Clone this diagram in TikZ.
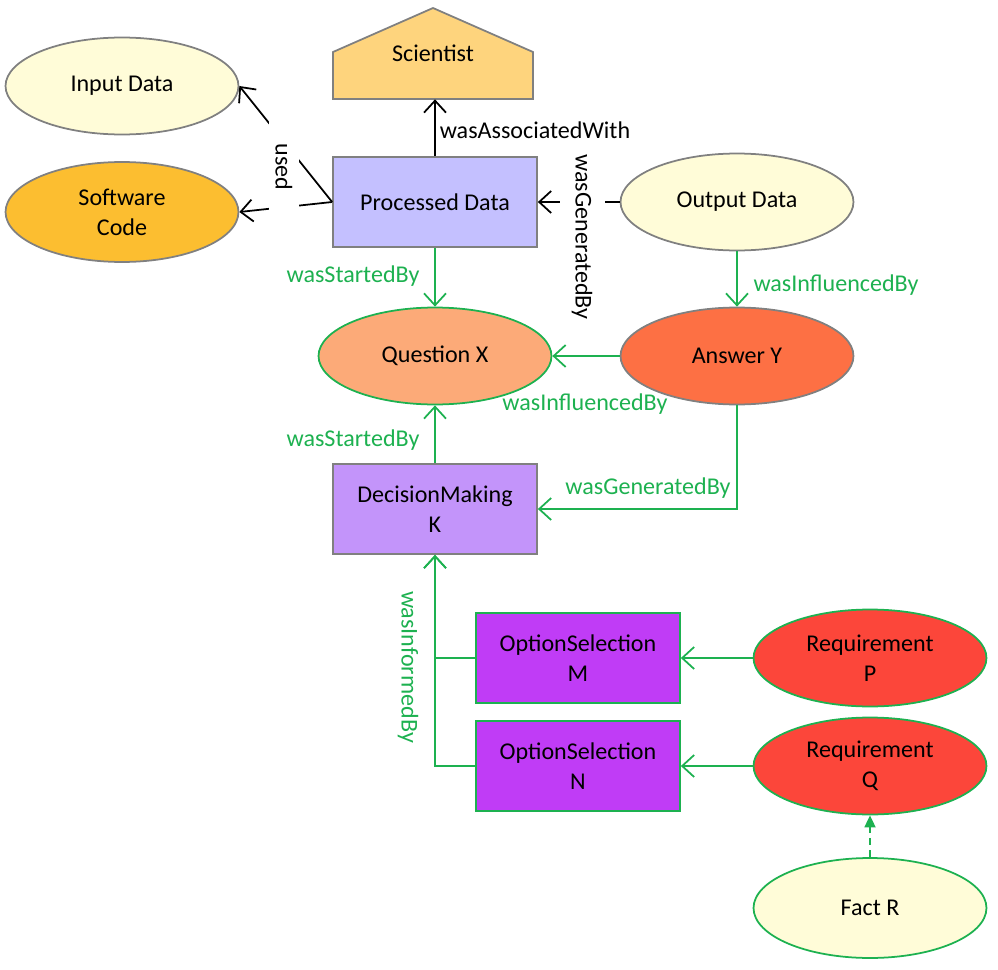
\documentclass[tikz,border=0pt]{standalone}
\usepackage{fontspec}
\setmainfont{Carlito}
\usepackage{tikz}
\usetikzlibrary{shapes.geometric,arrows.meta}

\definecolor{paleyellow}{RGB}{255,252,216}
\definecolor{softgold}{RGB}{252,190,48}
\definecolor{sciorange}{RGB}{254,212,125}
\definecolor{lavender}{RGB}{196,192,255}
\definecolor{peach}{RGB}{252,170,120}
\definecolor{coral}{RGB}{253,112,68}
\definecolor{lilac}{RGB}{195,148,250}
\definecolor{optviolet}{RGB}{192,60,246}
\definecolor{reqred}{RGB}{252,70,58}
\definecolor{provgreen}{RGB}{29,177,80}
\definecolor{edgegray}{RGB}{128,128,128}

\tikzset{
  every node/.style={font=\fontsize{13.7}{17}\selectfont},
  entity/.style={ellipse, draw=edgegray, line width=1pt, minimum width=4.66cm, minimum height=1.94cm, inner sep=0pt, align=center},
  activity/.style={rectangle, draw=edgegray, line width=1pt, minimum width=4.08cm, minimum height=1.8cm, align=center},
  rel/.style={-{Straight Barb[length=2.4mm,width=4.4mm]}, line width=1pt},
  grel/.style={rel, draw=provgreen},
  glabel/.style={text=provgreen},
}

\begin{document}
\begin{tikzpicture}[x=0.02cm,y=-0.02cm]
\useasboundingbox (0,0) rectangle (998,970);

\node[entity, fill=paleyellow] (input) at (122,86) {Input Data};
\node[entity, fill=softgold, minimum height=2cm] (code) at (122,212) {Software\\Code};
\node[activity, fill=lavender] (pd) at (435,202) {Processed Data};
\filldraw[fill=sciorange, draw=edgegray, line width=1pt] (333,99) -- (333,52) -- (433,8) -- (533,52) -- (533,99) -- cycle;
\node[minimum width=4cm, minimum height=1.84cm] (sci) at (433,53) {Scientist};
\node[entity, fill=paleyellow] (out) at (737,202) {Output Data};
\node[entity, fill=peach, draw=provgreen] (qx) at (435,356) {Question X};
\node[entity, fill=coral] (ay) at (737,356) {Answer Y};
\node[activity, fill=lilac] (dm) at (435,509) {DecisionMaking\\K};
\node[activity, fill=optviolet, draw=provgreen] (osm) at (578,658) {OptionSelection\\M};
\node[activity, fill=optviolet, draw=provgreen] (osn) at (578,766) {OptionSelection\\N};
\node[entity, fill=reqred, draw=provgreen] (rp) at (870,658) {Requirement\\P};
\node[entity, fill=reqred, draw=provgreen] (rq) at (870,766) {Requirement\\Q};
\node[entity, fill=paleyellow, draw=provgreen, minimum height=2cm] (fr) at (870,908) {Fact R};

% black relations
\draw[rel] (pd.north) -- (pd.north |- sci.south);
\node at (535,130) {wasAssociatedWith};
\draw[rel] (pd.west) -- (input.east);
\draw[rel] (pd.west) -- (code.east);
\node[fill=white, rotate=-90, minimum width=1.9cm, minimum height=0.6cm] at (284,167) {used};
\draw[rel] (out.west) -- (pd.east);
\node[fill=white, rotate=-90, minimum height=0.9cm] at (582,237) {wasGeneratedBy};

% green relations
\draw[grel] (pd.south) -- (qx.north);
\node[glabel] at (353,276) {wasStartedBy};
\draw[grel] (out.south) -- (ay.north);
\node[glabel] at (836,285) {wasInfluencedBy};
\draw[grel] (ay.west) -- (qx.east);
\node[glabel] at (585,404) {wasInfluencedBy};
\draw[grel] (dm.north) -- (qx.south);
\node[glabel] at (353,440) {wasStartedBy};
\draw[grel] (ay.south) |- (dm.east);
\node[glabel] at (648,488) {wasGeneratedBy};
\draw[grel] (osm.west) -| (dm.south);
\draw[grel] (osn.west) -| (dm.south);
\node[glabel, rotate=-90] at (408,667) {wasInformedBy};
\draw[grel] (rp.west) -- (osm.east);
\draw[grel] (rq.west) -- (osn.east);
\draw[provgreen, line width=1pt, dash pattern=on 4pt off 3pt, -{Triangle[length=2.4mm,width=2.2mm]}] (fr.north) -- (rq.south);
\end{tikzpicture}
\end{document}
